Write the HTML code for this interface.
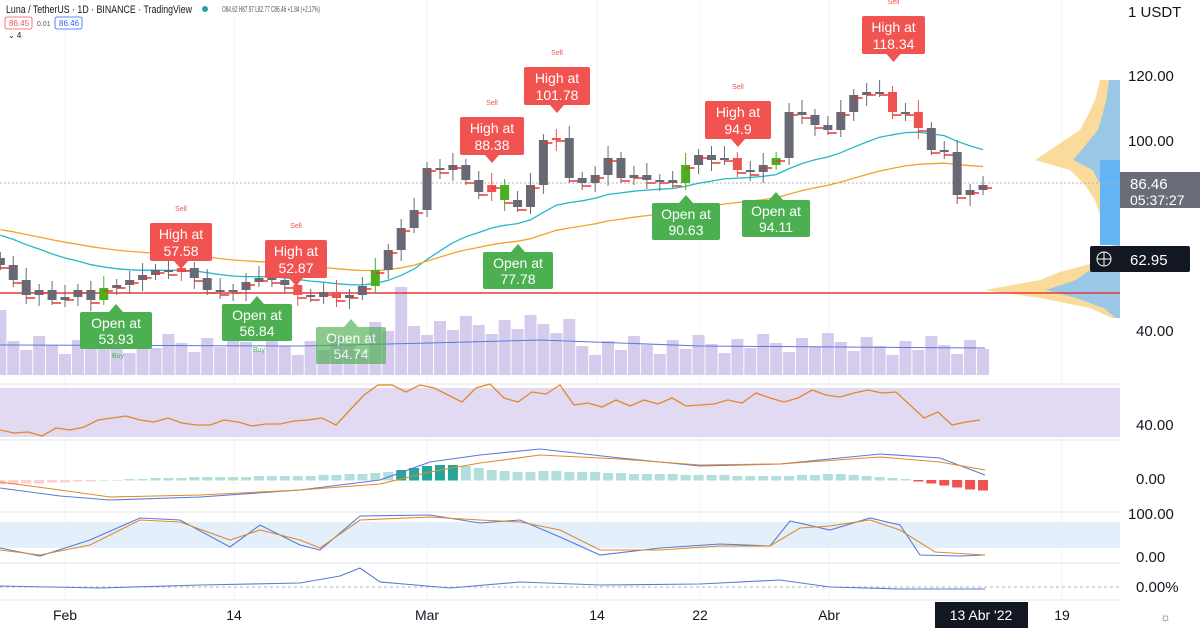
<!DOCTYPE html>
<html><head><meta charset="utf-8"><style>
html,body{margin:0;padding:0;background:#fff;}
body{width:1200px;height:630px;overflow:hidden;position:relative;font-family:"Liberation Sans",sans-serif;}
svg{position:absolute;left:0;top:0;}
</style></head><body>
<svg id="s" width="1200" height="630" viewBox="0 0 1200 630" font-family="Liberation Sans, sans-serif"></svg>
<script>
const S=document.getElementById('s');let h='';
const X=i=>65+(i-5)*12.93;
const C=[265,280,295,290,300,297,290,300,288,285,280,275,270,272,268,278,290,292,290,282,278,280,285,295,297,292,298,295,286,270,250,228,210,168,170,165,180,192,185,200,207,185,140,138,178,183,175,158,178,175,180,180,183,165,155,160,158,170,172,165,158,112,115,125,130,112,95,92,92,112,112,128,150,152,195,190,185];
const red={14:1,23:1,38:1,43:1,57:1,69:1,71:1,26:1};const grn={8:1,29:1,39:1,53:1,60:1};
h+='<rect x="0" y="0" width="1120" height="600" fill="#fff"/>';
[65,234,427,597,700,829,1062].forEach(x=>h+=`<line x1="${x}" y1="0" x2="${x}" y2="600" stroke="#f0f3fa"/>`);
const prof=[[80,1100],[100,1095],[115,1088],[130,1080],[150,1050],[160,1035],[170,1070],[185,1085],[200,1095],[215,1100],[230,1110],[245,1112],[260,1105],[272,1060],[280,1040],[290,985],[298,1040],[308,1090],[318,1112]];
h+=`<polygon points="1120,80 ${prof.map(p=>p[1]+','+p[0]).join(' ')} 1120,318" fill="#f9d58a" opacity="0.85"/>`;
const prof2=prof.map(p=>[p[0],p[1]+(1120-p[1])*0.45]);
h+=`<polygon points="1120,80 ${prof2.map(p=>p[1]+','+p[0]).join(' ')} 1120,318" fill="#8fc4ee" opacity="0.9"/>`;
h+='<rect x="1100" y="160" width="20" height="85" fill="#64b5f6"/>';
for(let i=0;i<77;i++){let v=20+((i*37)%23)+(i>28&&i<45?18:0)+(i==31?30:0)+(i==0?45:0);h+=`<rect x="${X(i)-6}" y="${375-v}" width="12" height="${v}" fill="#d5cbec"/>`;}
h+='<polyline points="0,345 300,346 430,343 540,340 700,346 985,348" fill="none" stroke="#5b7bd5" stroke-width="1"/>';
h+='<line x1="0" y1="293" x2="1120" y2="293" stroke="#e53935" stroke-width="1.5"/>';
h+='<line x1="0" y1="183" x2="1120" y2="183" stroke="#b0b3bb" stroke-dasharray="2,2"/>';
function ema(n,init){let e=init,p=[];for(let i=0;i<77;i++){e=e+(C[i]-e)*2/(n+1);p.push(X(i).toFixed(1)+','+e.toFixed(1));}return p.join(' ');}
h+=`<polyline points="${ema(20,232)}" fill="none" stroke="#26b7c9" stroke-width="1.3"/>`;
h+=`<polyline points="${ema(45,228)}" fill="none" stroke="#f2a42a" stroke-width="1.3"/>`;
for(let i=0;i<77;i++){const c=C[i],o=i?C[i-1]:258;const x=X(i);const t=Math.min(o,c),b=Math.max(o,c);
const col=red[i]?'#ef5350':grn[i]?'#4caf1f':'#676a74';
h+=`<line x1="${x}" y1="${t-6-(i%3)*3}" x2="${x}" y2="${b+5+(i%4)*2}" stroke="${col}"/>`;
h+=`<rect x="${x-4.5}" y="${t}" width="9" height="${Math.max(b-t,2)}" fill="${col}"/>`;
h+=`<line x1="${x}" y1="${c+3}" x2="${x+9}" y2="${c+3}" stroke="#e53935" stroke-width="1.5"/>`;}
function hi(x,y,w,a,b){h+=`<rect x="${x}" y="${y}" width="${w}" height="38" rx="2" fill="#f05350"/><polygon points="${x+w/2-7},${y+38} ${x+w/2+7},${y+38} ${x+w/2},${y+46}" fill="#f05350"/><text x="${x+w/2}" y="${y+16}" fill="#fff" font-size="14" text-anchor="middle">${a}</text><text x="${x+w/2}" y="${y+33}" fill="#fff" font-size="14" text-anchor="middle">${b}</text><text x="${x+w/2}" y="${y-12}" fill="#f05350" font-size="7" text-anchor="middle">Sell</text>`;}
function op(x,y,w,b,o){h+=`<g opacity="${o||1}"><polygon points="${x+w/2-7},${y} ${x+w/2+7},${y} ${x+w/2},${y-8}" fill="#4caf50"/><rect x="${x}" y="${y}" width="${w}" height="37" rx="2" fill="#4caf50"/><text x="${x+w/2}" y="${y+16}" fill="#fff" font-size="14" text-anchor="middle">Open at</text><text x="${x+w/2}" y="${y+32}" fill="#fff" font-size="14" text-anchor="middle">${b}</text></g>`;}
hi(150,223,62,'High at','57.58');hi(265,240,62,'High at','52.87');hi(460,117,64,'High at','88.38');hi(524,67,66,'High at','101.78');hi(705,101,66,'High at','94.9');hi(862,16,63,'High at','118.34');
op(80,312,72,'53.93');op(222,304,70,'56.84');op(316,327,70,'54.74',0.65);op(483,252,70,'77.78');op(652,203,68,'90.63');op(742,200,68,'94.11');
h+='<text x="118" y="358" font-size="7" fill="#4caf50" text-anchor="middle">Buy</text><text x="259" y="352" font-size="7" fill="#4caf50" text-anchor="middle">Buy</text>';
[384,440,512,563,600].forEach(y=>h+=`<line x1="0" y1="${y}" x2="1200" y2="${y}" stroke="#e0e3eb"/>`);
h+='<rect x="0" y="388" width="1120" height="49" fill="#e2d9f2"/>';
const rsi=[430,433,432,436,428,430,427,420,418,416,420,422,418,423,425,425,420,422,426,424,424,421,420,418,425,410,395,385,385,392,385,388,395,402,388,384,398,402,392,394,385,405,403,407,400,406,400,404,398,406,405,404,400,403,393,398,402,398,390,395,397,393,390,393,392,405,418,412,425,422,420];
h+=`<polyline points="${rsi.map((v,k)=>(k*14)+','+v).join(' ')}" fill="none" stroke="#e08a28" stroke-width="1.3"/>`;
// macd histogram explicit
const mh=[-4,-4,-3,-3,-2,-2,-1,-1,0,0,1,1,2,2,2,3,3,3,3,3,4,4,4,4,4,5,5,6,6,7,8,10,12,14,15,15,14,12,10,9,8,8,9,9,8,8,8,7,7,6,6,6,6,5,5,5,5,4,4,4,4,4,5,5,6,6,5,4,3,2,1,-1,-3,-5,-7,-9,-10];
for(let i=0;i<77;i++){const v=mh[i];const x=X(i);let c=v>=0?(i>30&&i<36?'#26a69a':'#b2dfdb'):(i>60?'#ef5350':'#ffcdd2');h+=`<rect x="${x-5}" y="${v>0?480-v:480}" width="10" height="${Math.abs(v)+0.5}" fill="${c}"/>`;}
h+='<polyline points="0,488 60,496 110,500 200,497 300,490 380,480 430,462 480,455 540,449 620,458 700,466 780,464 880,454 940,458 985,475" fill="none" stroke="#5b7bd5" stroke-width="1.1"/>';
h+='<polyline points="0,482 60,490 110,497 200,495 300,490 380,484 430,472 480,463 540,455 620,459 700,465 780,464 880,457 940,462 985,470" fill="none" stroke="#e08a28" stroke-width="1.1"/>';
h+='<rect x="0" y="522" width="1120" height="26" fill="#e3f0fb"/>';
h+='<polyline points="0,548 40,556 90,540 140,518 180,520 230,547 260,525 300,545 320,550 360,516 430,515 480,523 520,520 560,537 600,555 660,548 720,544 770,546 790,521 830,530 870,518 900,525 920,555 960,556 985,555" fill="none" stroke="#5b7bd5" stroke-width="1.1"/>';
h+='<polyline points="0,550 40,555 90,545 140,520 180,522 230,540 260,530 300,540 320,548 360,520 430,517 480,520 520,522 560,530 600,550 660,550 720,546 770,546 800,528 830,526 870,520 900,530 935,552 985,555" fill="none" stroke="#e08a28" stroke-width="1.1"/>';
h+='<line x1="0" y1="587" x2="1120" y2="587" stroke="#b0b3bb" stroke-dasharray="3,3"/>';
h+='<polyline points="0,586 100,588 200,585 300,583 340,576 360,568 380,582 450,588 520,582 600,585 700,584 780,580 830,587 900,589 985,589" fill="none" stroke="#5b7bd5" stroke-width="1.1"/>';
h+='<rect x="1120" y="0" width="80" height="630" fill="#fff"/>';
const al=[[120,'120.00',81],[100,'100.00',146],[40,'40.00',336],[0,'40.00',430],[0,'0.00',484],[0,'100.00',519],[0,'0.00',562],[0,'0.00%',592]];
al.forEach(a=>h+=`<text x="${a[1].length>5?1128:1136}" y="${a[2]}" font-size="15" fill="#131722">${a[1]}</text>`);
h+='<text x="1128" y="17" font-size="15" fill="#131722">1 USDT</text>';
h+='<rect x="1120" y="172" width="80" height="36" fill="#6a6d78"/><text x="1130" y="189" font-size="15" fill="#fff">86.46</text><text x="1130" y="205" font-size="14" fill="#fff">05:37:27</text>';
h+='<rect x="1090" y="246" width="100" height="26" rx="2" fill="#131722"/><circle cx="1104" cy="259" r="7" fill="none" stroke="#fff"/><line x1="1097" y1="259" x2="1111" y2="259" stroke="#fff"/><line x1="1104" y1="252" x2="1104" y2="266" stroke="#fff"/><text x="1130" y="265" font-size="15" fill="#fff">62.95</text>';
[['Feb',65],['14',234],['Mar',427],['14',597],['22',700],['Abr',829],['19',1062]].forEach(t=>h+=`<text x="${t[1]}" y="620" font-size="14" fill="#131722" text-anchor="middle">${t[0]}</text>`);
h+='<rect x="935" y="602" width="93" height="26" fill="#131722"/><text x="981" y="620" font-size="14" fill="#fff" text-anchor="middle">13 Abr \'22</text><text x="1160" y="621" font-size="12" fill="#555">☼</text>';
h+='<rect x="0" y="0" width="320" height="16" fill="#fff" opacity="0.85"/>';
h+='<text x="6" y="13" font-size="11" fill="#131722" textLength="186" lengthAdjust="spacingAndGlyphs">Luna / TetherUS · 1D · BINANCE · TradingView</text><circle cx="205" cy="9" r="3" fill="#26a69a"/><text x="222" y="12" font-size="8" fill="#555" textLength="98" lengthAdjust="spacingAndGlyphs">O84.62 H87.97 L82.77 C86.46 +1.84 (+2.17%)</text>';
h+='<rect x="5" y="17" width="27" height="12" rx="2" fill="#fff" stroke="#ef5350" stroke-width="0.8"/><text x="9" y="26" font-size="8" fill="#ef5350">86.45</text><text x="37" y="26" font-size="7" fill="#555">0.01</text><rect x="55" y="17" width="27" height="12" rx="2" fill="#fff" stroke="#2962ff" stroke-width="0.8"/><text x="59" y="26" font-size="8" fill="#2962ff">86.46</text><text x="8" y="38" font-size="8" fill="#131722">⌄ 4</text>';
S.innerHTML=h;
</script>
</body></html>
